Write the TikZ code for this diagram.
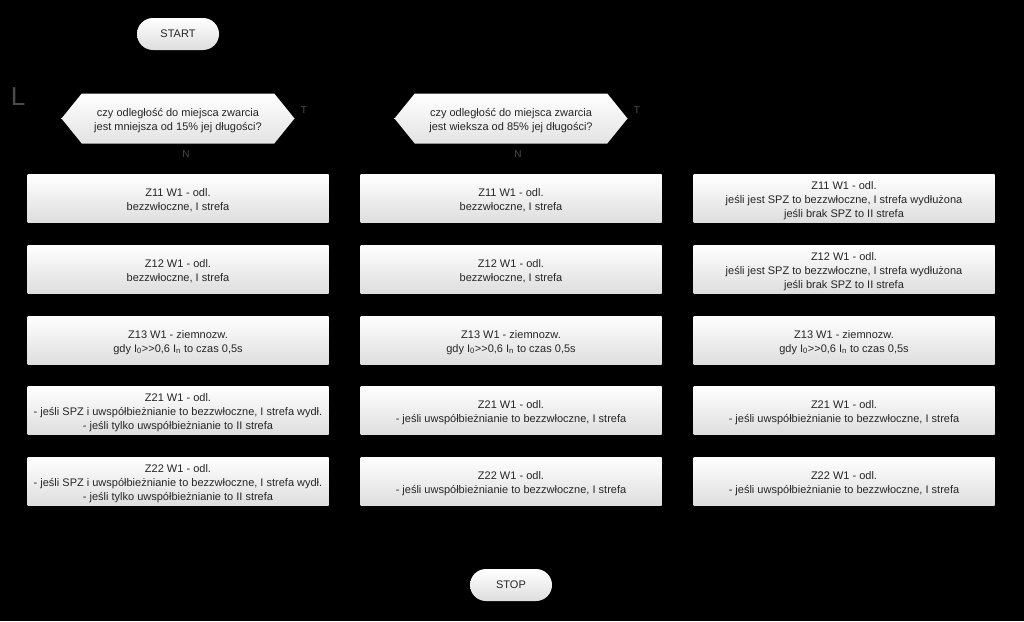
\documentclass[tikz,border=0pt]{standalone}
\usepackage{fontspec}
\setmainfont{Liberation Sans}
\usetikzlibrary{shapes.symbols}
\newcommand{\boxlines}[1]{\raisebox{-2.5pt}[\height][\depth]{\begin{tabular}{@{}c@{}}#1\end{tabular}}}

\begin{document}
\begin{tikzpicture}[x=1pt,y=-1pt,
    box/.style={rectangle, minimum width=301pt, minimum height=48pt, top color=white, bottom color=black!13, text=black!85, inner sep=0pt, font=\fontsize{11}{14}\selectfont},
    term/.style={rectangle, rounded corners=16pt, minimum width=82pt, minimum height=32pt, top color=white, bottom color=black!13, text=black!85, inner sep=0pt, font=\fontsize{11}{14}\selectfont},
    decision/.style={signal, signal to=west and east, signal pointer angle=102, minimum width=233pt, minimum height=50pt, top color=white, bottom color=black!11, text=black!85, inner sep=0pt, font=\fontsize{11}{14}\selectfont},
    lbl/.style={text=black!70, font=\fontsize{10}{12}\selectfont}]
    \fill[black] (0,0) rectangle (1024,621);
    \useasboundingbox (0,0) rectangle (1024,621);

    \node[term] (start) at (178,34) {START};
    \node[term] (stop) at (511,585) {STOP};

    \node[decision] (dec1) at (178,118.5) {\boxlines{czy odległość do miejsca zwarcia\\jest mniejsza od 15\% jej długości?}};
    \node[decision] (dec2) at (511,118.5) {\boxlines{czy odległość do miejsca zwarcia\\jest wieksza od 85\% jej długości?}};

    \node[lbl] (t1) at (304,110) {T};
    \node[lbl] (t2) at (637,110) {T};
    \node[lbl] (n1) at (186,154) {N};
    \node[lbl] (n2) at (518,154) {N};
    \node[text=black!70, font=\fontsize{26}{28}\selectfont] (l1) at (18,97) {L};

    % first column
    \node[box] (a1) at (178,198.5) {\boxlines{Z11 W1 - odl.\\bezzwłoczne, I strefa}};
    \node[box] (a2) at (178,269) {\boxlines{Z12 W1 - odl.\\bezzwłoczne, I strefa}};
    \node[box] (a3) at (178,340) {\boxlines{Z13 W1 - ziemnozw.\\gdy I\textsubscript{0}>{}>0,6 I\textsubscript{n} to czas 0,5s}};
    \node[box] (a4) at (178,410.5) {\boxlines{Z21 W1 - odl.\\- jeśli SPZ i uwspółbieżnianie to bezzwłoczne, I strefa wydł.\\- jeśli tylko uwspółbieżnianie to II strefa}};
    \node[box] (a5) at (178,481) {\boxlines{Z22 W1 - odl.\\- jeśli SPZ i uwspółbieżnianie to bezzwłoczne, I strefa wydł.\\- jeśli tylko uwspółbieżnianie to II strefa}};

    % second column
    \node[box] (b1) at (511,198.5) {\boxlines{Z11 W1 - odl.\\bezzwłoczne, I strefa}};
    \node[box] (b2) at (511,269) {\boxlines{Z12 W1 - odl.\\bezzwłoczne, I strefa}};
    \node[box] (b3) at (511,340) {\boxlines{Z13 W1 - ziemnozw.\\gdy I\textsubscript{0}>{}>0,6 I\textsubscript{n} to czas 0,5s}};
    \node[box] (b4) at (511,410.5) {\boxlines{Z21 W1 - odl.\\- jeśli uwspółbieżnianie to bezzwłoczne, I strefa}};
    \node[box] (b5) at (511,481) {\boxlines{Z22 W1 - odl.\\- jeśli uwspółbieżnianie to bezzwłoczne, I strefa}};

    % third column
    \node[box] (c1) at (844,198.5) {\boxlines{Z11 W1 - odl.\\jeśli jest SPZ to bezzwłoczne, I strefa wydłużona\\jeśli brak SPZ to II strefa}};
    \node[box] (c2) at (844,269) {\boxlines{Z12 W1 - odl.\\jeśli jest SPZ to bezzwłoczne, I strefa wydłużona\\jeśli brak SPZ to II strefa}};
    \node[box] (c3) at (844,340) {\boxlines{Z13 W1 - ziemnozw.\\gdy I\textsubscript{0}>{}>0,6 I\textsubscript{n} to czas 0,5s}};
    \node[box] (c4) at (844,410.5) {\boxlines{Z21 W1 - odl.\\- jeśli uwspółbieżnianie to bezzwłoczne, I strefa}};
    \node[box] (c5) at (844,481) {\boxlines{Z22 W1 - odl.\\- jeśli uwspółbieżnianie to bezzwłoczne, I strefa}};
\end{tikzpicture}
\end{document}
